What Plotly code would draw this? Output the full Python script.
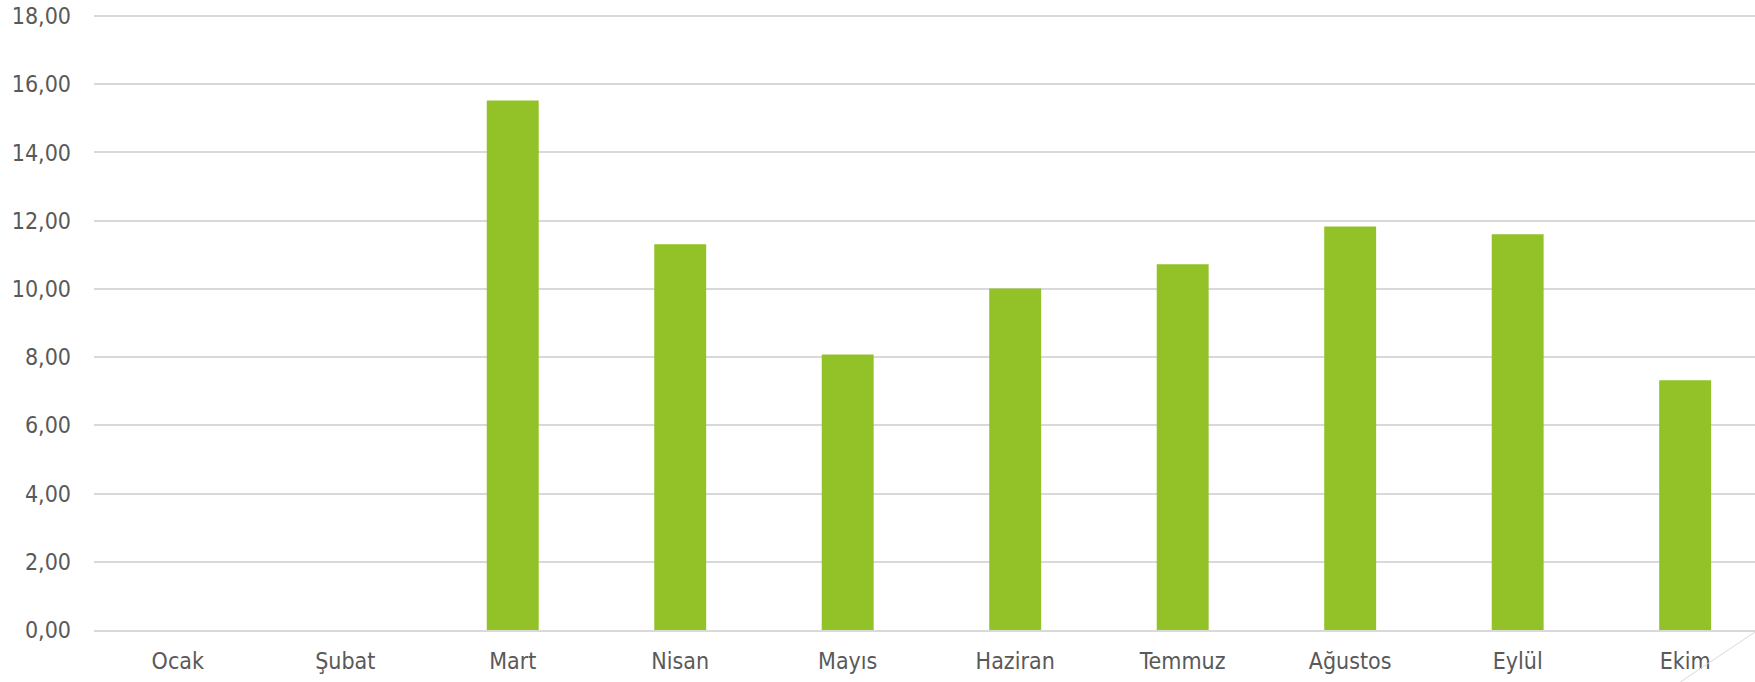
import plotly.graph_objects as go

months = ["Ocak", "Şubat", "Mart", "Nisan", "Mayıs", "Haziran", "Temmuz", "Ağustos", "Eylül", "Ekim"]
values = [None, None, 15.52, 11.31, 8.08, 10.01, 10.72, 11.83, 11.60, 7.32]
y_ticks = [0, 2, 4, 6, 8, 10, 12, 14, 16, 18]
y_tick_labels = ["0,00", "2,00", "4,00", "6,00", "8,00", "10,00", "12,00", "14,00", "16,00", "18,00"]

FONT = "DejaVu Sans Condensed, DejaVu Sans"
TXT = "#595959"
GRID = "#d9d9d9"

fig = go.Figure(go.Bar(
    x=list(range(len(months))), y=values,
    marker=dict(color="#92C227", line=dict(width=0)),
    width=0.31,
))

fig.update_layout(
    width=1755, height=682,
    margin=dict(l=94, r=0, t=15, b=52),
    paper_bgcolor="white", plot_bgcolor="white",
    showlegend=False,
    font=dict(family=FONT, color=TXT, size=23),
    xaxis=dict(
        tickmode="array", tickvals=list(range(len(months))), ticktext=months,
        range=[-0.5, 9.417], showgrid=False, zeroline=False,
        showline=True, linecolor=GRID, linewidth=1.5,
        ticks="", ticklabelstandoff=10,
        tickfont=dict(family=FONT, color=TXT, size=23),
    ),
    yaxis=dict(
        tickmode="array", tickvals=y_ticks, ticktext=y_tick_labels,
        range=[0, 18.03], showgrid=True, gridcolor=GRID, gridwidth=1.5,
        zeroline=False, showline=False, ticks="", ticklabelstandoff=22,
        tickfont=dict(family=FONT, color=TXT, size=23),
    ),
    shapes=[dict(type="line", xref="paper", yref="paper",
                 x0=0.955, y0=-0.0846, x1=1.0, y1=-0.0033,
                 line=dict(color=GRID, width=1))],
)

fig.write_html("out.html", config={"displayModeBar": False},
               post_script="document.body.style.margin='0';document.body.style.padding='0';")
